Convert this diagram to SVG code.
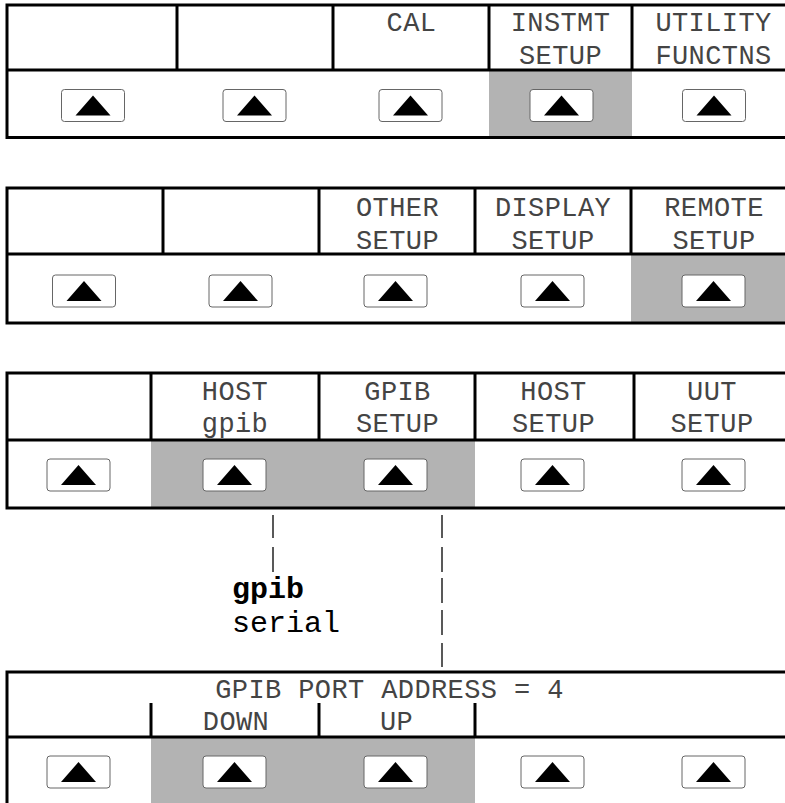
<svg xmlns="http://www.w3.org/2000/svg" xmlns:xlink="http://www.w3.org/1999/xlink" width="785" height="803" viewBox="0 0 785 803">
<style>
.frame{fill:none;stroke:#000;stroke-width:3}
.div{stroke:#000;stroke-width:3}
.hl{fill:#b3b3b3}
.btn rect{fill:#fff;stroke:#666;stroke-width:1}
.btn polygon{fill:#000}
.lcd{font-family:"Liberation Mono","DejaVu Sans Mono",monospace;font-size:27px;letter-spacing:0.4px;fill:#444;text-anchor:middle}
.mono{font-family:"Courier New","Nimbus Mono PS","FreeMono","Liberation Mono",monospace;font-size:30px;fill:#000}
.pipe{stroke:#222;stroke-width:1.5}
</style>
<defs>
<g id="btn" class="btn"><rect x="-31.5" y="-16" width="63" height="32" rx="3"/><polygon points="-17.5,10 0,-10 17.5,10"/></g>
</defs>
<rect width="785" height="803" fill="#fff"/>

<g id="panel1">
<rect class="hl" x="489" y="70" width="143" height="67"/>
<rect class="frame" x="7" y="5" width="800" height="132.5"/>
<line class="div" x1="7" y1="70" x2="800" y2="70"/>
<line class="div" x1="177" y1="5" x2="177" y2="70"/>
<line class="div" x1="333" y1="5" x2="333" y2="70"/>
<line class="div" x1="489" y1="5" x2="489" y2="70"/>
<line class="div" x1="632" y1="5" x2="632" y2="70"/>
<text class="lcd" x="411.5" y="30.5">CAL</text>
<text class="lcd" x="560.5" y="30.5">INSTMT</text>
<text class="lcd" x="560.5" y="64">SETUP</text>
<text class="lcd" x="713.5" y="30.5">UTILITY</text>
<text class="lcd" x="713.5" y="64">FUNCTNS</text>
<use xlink:href="#btn" x="93" y="105.5"/>
<use xlink:href="#btn" x="254.5" y="105.5"/>
<use xlink:href="#btn" x="410.5" y="105.5"/>
<use xlink:href="#btn" x="561.5" y="105.5"/>
<use xlink:href="#btn" x="714" y="105.5"/>
</g>

<g id="panel2">
<rect class="hl" x="631" y="254" width="160" height="69"/>
<rect class="frame" x="7" y="188" width="800" height="135"/>
<line class="div" x1="7" y1="254" x2="800" y2="254"/>
<line class="div" x1="163" y1="188" x2="163" y2="254"/>
<line class="div" x1="319" y1="188" x2="319" y2="254"/>
<line class="div" x1="475" y1="188" x2="475" y2="254"/>
<line class="div" x1="631" y1="188" x2="631" y2="254"/>
<text class="lcd" x="397.5" y="215.5">OTHER</text>
<text class="lcd" x="397.5" y="248.5">SETUP</text>
<text class="lcd" x="553" y="215.5">DISPLAY</text>
<text class="lcd" x="553" y="248.5">SETUP</text>
<text class="lcd" x="714" y="215.5">REMOTE</text>
<text class="lcd" x="714" y="248.5">SETUP</text>
<use xlink:href="#btn" x="84" y="291"/>
<use xlink:href="#btn" x="240.5" y="291"/>
<use xlink:href="#btn" x="395.5" y="291"/>
<use xlink:href="#btn" x="552.5" y="291"/>
<use xlink:href="#btn" x="713.5" y="291"/>
</g>

<g id="panel3">
<rect class="hl" x="151" y="440" width="324" height="68"/>
<rect class="frame" x="7" y="373" width="800" height="135"/>
<line class="div" x1="7" y1="440" x2="800" y2="440"/>
<line class="div" x1="151" y1="373" x2="151" y2="440"/>
<line class="div" x1="319" y1="373" x2="319" y2="440"/>
<line class="div" x1="475" y1="373" x2="475" y2="440"/>
<line class="div" x1="634" y1="373" x2="634" y2="440"/>
<text class="lcd" x="235" y="400">HOST</text>
<text class="lcd" x="235" y="432">gpib</text>
<text class="lcd" x="397.5" y="400">GPIB</text>
<text class="lcd" x="397.5" y="432">SETUP</text>
<text class="lcd" x="553.5" y="400">HOST</text>
<text class="lcd" x="553.5" y="432">SETUP</text>
<text class="lcd" x="712" y="400">UUT</text>
<text class="lcd" x="712" y="432">SETUP</text>
<use xlink:href="#btn" x="78.5" y="475"/>
<use xlink:href="#btn" x="234.5" y="475"/>
<use xlink:href="#btn" x="395.5" y="475"/>
<use xlink:href="#btn" x="552.5" y="475"/>
<use xlink:href="#btn" x="713.5" y="475"/>
</g>

<g id="connectors">
<line class="pipe" x1="273" y1="515" x2="273" y2="538"/>
<line class="pipe" x1="273" y1="547" x2="273" y2="572"/>
<line class="pipe" x1="442" y1="515" x2="442" y2="538"/>
<line class="pipe" x1="442" y1="547" x2="442" y2="572"/>
<line class="pipe" x1="442" y1="578" x2="442" y2="603"/>
<line class="pipe" x1="442" y1="610" x2="442" y2="635"/>
<line class="pipe" x1="442" y1="643" x2="442" y2="667"/>
</g>

<g id="options">
<text class="mono" x="232" y="598" font-weight="bold">gpib</text>
<text class="mono" x="232" y="632">serial</text>
</g>

<g id="panel4">
<rect class="hl" x="151" y="737" width="324" height="80"/>
<rect class="frame" x="7" y="672" width="800" height="160"/>
<line class="div" x1="7" y1="737" x2="800" y2="737"/>
<line class="div" x1="151" y1="703" x2="151" y2="737"/>
<line class="div" x1="319" y1="703" x2="319" y2="737"/>
<line class="div" x1="475" y1="703" x2="475" y2="737"/>
<text class="lcd" x="389.5" y="698">GPIB PORT ADDRESS = 4</text>
<text class="lcd" x="236" y="730">DOWN</text>
<text class="lcd" x="396.5" y="730">UP</text>
<use xlink:href="#btn" x="78.5" y="772"/>
<use xlink:href="#btn" x="234.5" y="772"/>
<use xlink:href="#btn" x="395.5" y="772"/>
<use xlink:href="#btn" x="552.5" y="772"/>
<use xlink:href="#btn" x="713.5" y="772"/>
</g>
</svg>
